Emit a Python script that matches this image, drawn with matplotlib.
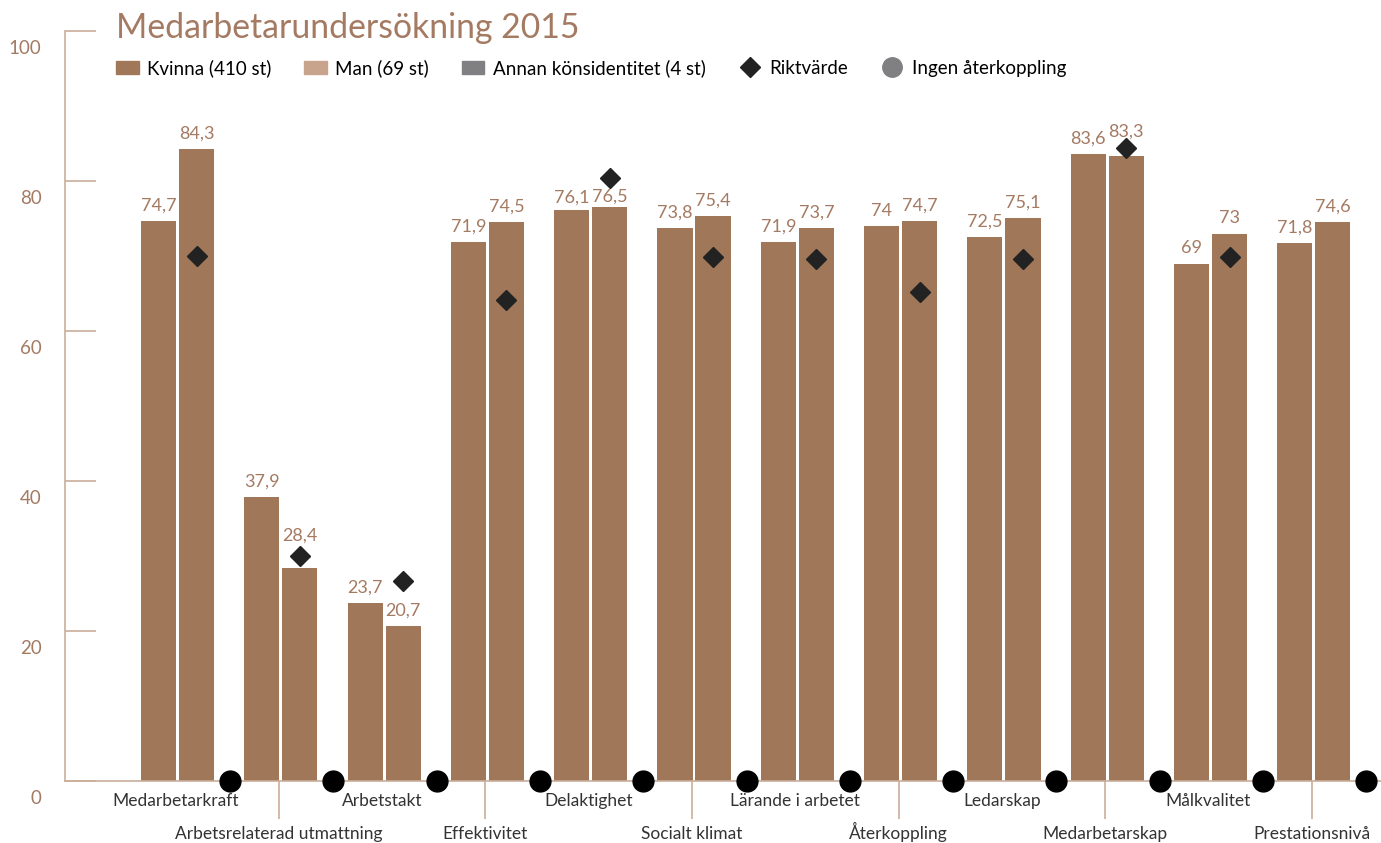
import numpy as np
import matplotlib.pyplot as plt
from matplotlib.patches import Patch
from matplotlib.lines import Line2D
from matplotlib.transforms import ScaledTranslation

plt.rcParams['font.family'] = ['Lato', 'DejaVu Sans']

# -----------------------------------------------------------------------------------------+
categories = ['Medarbetarkraft', 'Arbetsrelaterad utmattning', 'Arbetstakt', 'Effektivitet',
              'Delaktighet', 'Socialt klimat', 'Lärande i arbetet', 'Återkoppling',
              'Ledarskap', 'Medarbetarskap', 'Målkvalitet', 'Prestationsnivå']
bar1 = [74.7, 37.9, 23.7, 71.9, 76.1, 73.8, 71.9, 74.0, 72.5, 83.6, 69.0, 71.8]
bar2 = [84.3, 28.4, 20.7, 74.5, 76.5, 75.4, 73.7, 74.7, 75.1, 83.3, 73.0, 74.6]
riktvarde = [70.0, 30.0, 26.7, 64.2, 80.4, 69.9, 69.6, 65.2, 69.6, 84.4, 69.9, np.nan]
ingen = [0] * 12
yticks = [0, 20, 40, 60, 80, 100]
legend_labels = ['Kvinna (410 st)', 'Man (69 st)', 'Annan könsidentitet (4 st)',
                 'Riktvärde', 'Ingen återkoppling']

c_bar = '#A17759'
c_man = '#C8A48C'
c_annan = '#808083'
c_text = '#A47A62'
c_axis = '#CBAE9C'
c_dark = '#222222'

def fmt(v):
    if v == int(v):
        return str(int(v))
    return ('%.1f' % v).replace('.', ',')

# labels that were pushed up to clear the diamond (series, category): extra points
nudge = {(1, 1): 12, (1, 9): 7, (0, 4): -2, (1, 4): -3}

# -----------------------------------------------------------------------------------------+
fig = plt.figure(figsize=(13.81, 8.43), dpi=100)
ax = fig.add_axes([65 / 1381, 1 - 781 / 843, 1 - 65 / 1381, 750 / 843])

x = np.arange(len(categories))
off = 0.184
w = 0.34
b1 = ax.bar(x - off, bar1, w, color=c_bar, zorder=2)
b2 = ax.bar(x + off, bar2, w, color=c_bar, zorder=2)

for k, (bars, vals) in enumerate([(b1, bar1), (b2, bar2)]):
    for i, (r, v) in enumerate(zip(bars, vals)):
        ax.annotate(fmt(v), (r.get_x() + r.get_width() / 2, v),
                    xytext=(0, 11 + nudge.get((k, i), 0)),
                    textcoords='offset points', ha='center', va='center',
                    fontsize=13, color=c_text)

ax.plot(x + off, riktvarde, 'D', color=c_dark, markersize=10, linestyle='none', zorder=4)
ax.plot(x + 0.508, ingen, 'o', color='black', markersize=15, linestyle='none',
        zorder=5, clip_on=False)

ax.set_xlim(-1.089, 11.65)
ax.set_ylim(0, 100)

for s in ['top', 'right']:
    ax.spines[s].set_visible(False)
for s in ['left', 'bottom']:
    ax.spines[s].set_color(c_axis)
    ax.spines[s].set_linewidth(1.2)

ax.set_yticks(yticks)
ax.set_yticklabels([str(t) for t in yticks])
ax.tick_params(axis='y', direction='in', length=22, width=1.2, color=c_axis,
               labelcolor=c_text, labelsize=13.5, pad=17)
for lab in ax.get_yticklabels():
    lab.set_transform(lab.get_transform() + ScaledTranslation(0, -0.16, fig.dpi_scale_trans))

ax.set_xticks(x[1::2] - 0.02)
ax.set_xticklabels([])
ax.tick_params(axis='x', direction='out', length=27, width=1.2, color=c_axis)

for i, name in enumerate(categories):
    yy = -0.0333 if i % 2 == 0 else -0.0773
    ax.text(i - 0.02, yy, name, transform=ax.get_xaxis_transform(), ha='center',
            va='baseline', fontsize=12.5, color='#333333')

fig.text(116 / 1381, 1 - 28 / 843, 'Medarbetarundersökning 2015', fontsize=24.3,
         color=c_text, ha='left', va='center')

handles = [Patch(color=c_bar), Patch(color=c_man), Patch(color=c_annan),
           Line2D([], [], marker='D', color=c_dark, linestyle='none', markersize=10),
           Line2D([], [], marker='o', color=c_annan, linestyle='none', markersize=14)]
fig.legend(handles, legend_labels, loc='center left', bbox_to_anchor=(116 / 1381, 1 - 68 / 843),
           ncol=5, frameon=False, fontsize=13.5, handlelength=1.2, handleheight=0.75,
           handletextpad=0.45, columnspacing=1.75, borderpad=0, borderaxespad=0)

plt.savefig('out.png')
